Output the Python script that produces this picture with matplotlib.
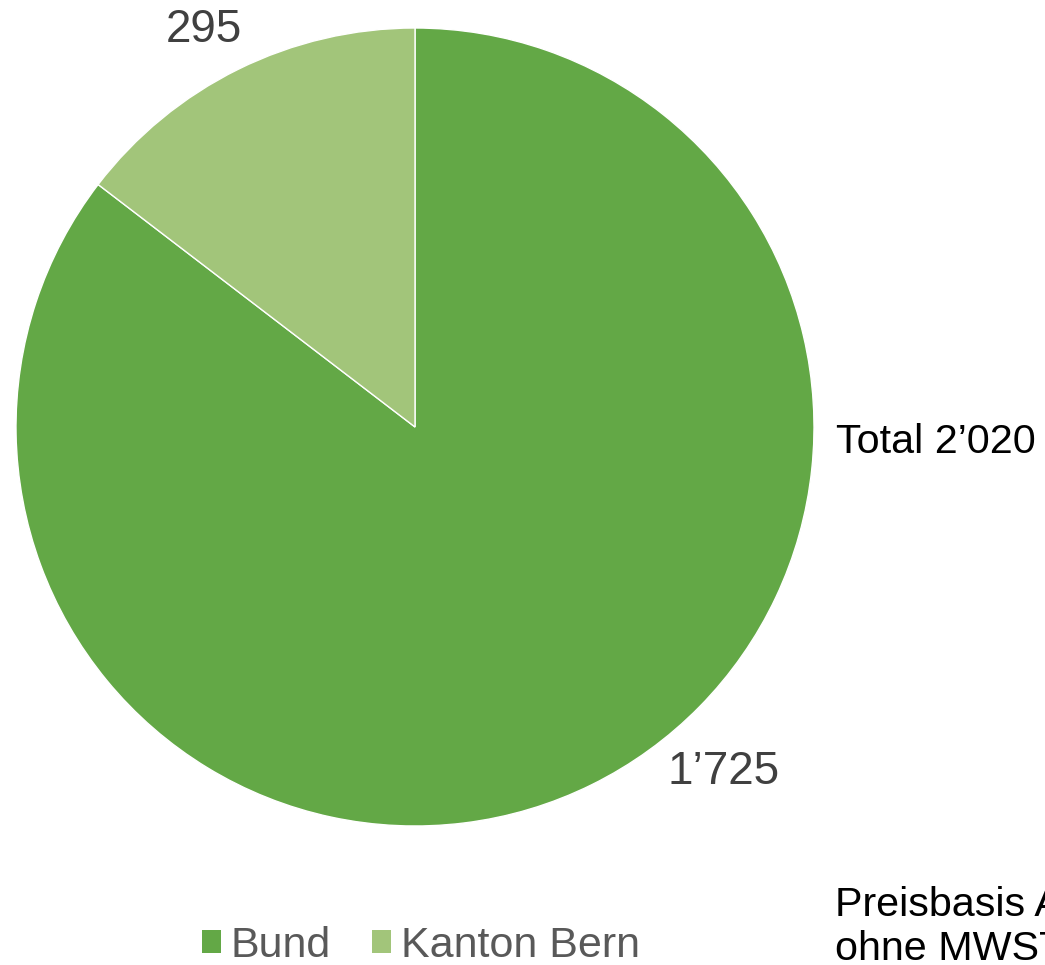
import matplotlib.pyplot as plt
from matplotlib.patches import Patch

plt.rcParams['font.family'] = ['Liberation Sans', 'DejaVu Sans']

# data
categories = ["Bund", "Kanton Bern"]
values = [1725, 295]
value_labels = ["1\u2019725", "295"]
colors = ["#63A846", "#A2C57A"]
total_label = "Total 2\u2019020"
note = "Preisbasis April\nohne MWST"

W, H = 1045, 965
fig = plt.figure(figsize=(W / 100, H / 100), dpi=100)
ax = fig.add_axes([0, 0, 1, 1])

# pie in pixel-like coordinates (y up)
cx, cy, r = 415, H - 427, 399
ax.pie(values, colors=colors, startangle=90, counterclock=False,
       center=(cx, cy), radius=r, frame=True,
       wedgeprops=dict(edgecolor='white', linewidth=1))
ax.set_xlim(0, W)
ax.set_ylim(0, H)
ax.axis('off')

# value labels
ax.text(724, H - 772, value_labels[0], ha='center', va='center',
        fontsize=33, color='#404040')
ax.text(204, H - 30, value_labels[1], ha='center', va='center',
        fontsize=33, color='#404040')

ax.text(836, H - 442, total_label, ha='left', va='center',
        fontsize=29.7, color='black')
ax.text(835, H - 886, note, ha='left', va='top', fontsize=29.7,
        color='black', linespacing=1.2)

handles = [Patch(facecolor=c, edgecolor='none') for c in colors]
leg = fig.legend(handles, categories, loc='center', ncol=2,
                 bbox_to_anchor=(421 / W, 1 - 946 / H), frameon=False,
                 fontsize=31, handlelength=0.45, handleheight=0.45,
                 handletextpad=0.23, columnspacing=0.95, borderpad=0)
for t in leg.get_texts():
    t.set_color('#595959')

fig.savefig("out.png", dpi=100)
